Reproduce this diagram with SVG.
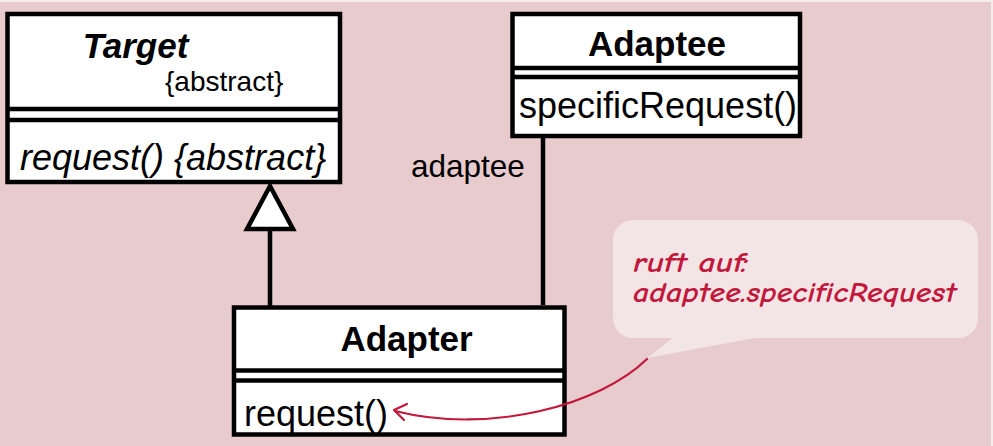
<svg xmlns="http://www.w3.org/2000/svg" width="993" height="446" viewBox="0 0 993 446">
<style>
.box{fill:#ffffff;stroke:#000000;stroke-width:4.5}
.sep{stroke:#000000;stroke-width:4.5}
.line{stroke:#000000;stroke-width:4.5;fill:none}
.t{font-family:"Liberation Sans",Arial,sans-serif;fill:#000000}
.title{font-size:35px;font-weight:bold}
.op{font-size:36px}
.note{font-family:"Comic Sans MS","Comic Neue","Noto Sans",sans-serif;font-style:italic;font-weight:bold;font-size:29px;fill:#c2183c}
.red{stroke:#c2183c;stroke-width:2.2;fill:none;stroke-linecap:round;stroke-linejoin:round}
</style>
<rect x="0" y="0" width="993" height="446" fill="#f6eced"/>
<rect x="0" y="2" width="991" height="444" fill="#e8cbcd"/>

<g id="connectors">
  <line class="line" x1="543" y1="136" x2="543" y2="305"/>
  <line class="line" x1="270" y1="229" x2="270" y2="307"/>
  <polygon points="270,186 247,229 293,229" fill="#ffffff" stroke="#000000" stroke-width="4.5" stroke-linejoin="miter"/>
  <text class="t" x="411" y="177" font-size="31.5">adaptee</text>
</g>

<g id="Target">
  <rect class="box" x="7.5" y="14" width="332.5" height="168"/>
  <line class="sep" x1="7.5" y1="109" x2="340" y2="109"/>
  <line class="sep" x1="7.5" y1="120" x2="340" y2="120"/>
  <text class="t title" x="135.5" y="58" text-anchor="middle" font-style="italic">Target</text>
  <text class="t" x="165" y="91" font-size="28">{abstract}</text>
  <text class="t op" x="20" y="170" font-style="italic">request() {abstract}</text>
</g>

<g id="Adaptee">
  <rect class="box" x="512.5" y="14" width="287.5" height="122"/>
  <line class="sep" x1="512.5" y1="68" x2="800" y2="68"/>
  <line class="sep" x1="512.5" y1="77" x2="800" y2="77"/>
  <text class="t title" x="657" y="56" text-anchor="middle">Adaptee</text>
  <text class="t op" x="519" y="118">specificRequest()</text>
</g>

<g id="Adapter">
  <rect class="box" x="234" y="307.5" width="330.5" height="127"/>
  <line class="sep" x1="234" y1="370.5" x2="564.5" y2="370.5"/>
  <line class="sep" x1="234" y1="380.5" x2="564.5" y2="380.5"/>
  <text class="t title" x="406.5" y="351" text-anchor="middle">Adapter</text>
  <text class="t op" x="244" y="426">request()</text>
</g>

<g id="note">
  <rect x="613" y="220" width="365" height="118" rx="20" ry="20" fill="#f3e5e6"/>
  <polygon points="675,336 647,358 765,336" fill="#f3e5e6"/>
  <text class="note" x="633" y="272" textLength="115" lengthAdjust="spacingAndGlyphs">ruft auf:</text>
  <text class="note" x="633" y="302" textLength="323" lengthAdjust="spacingAndGlyphs">adaptee.specificRequest</text>
  <path class="red" d="M 647 359 C 600 405 490 435 395 411"/>
  <polyline class="red" points="407,404 394,410 404,420"/>
</g>
</svg>
